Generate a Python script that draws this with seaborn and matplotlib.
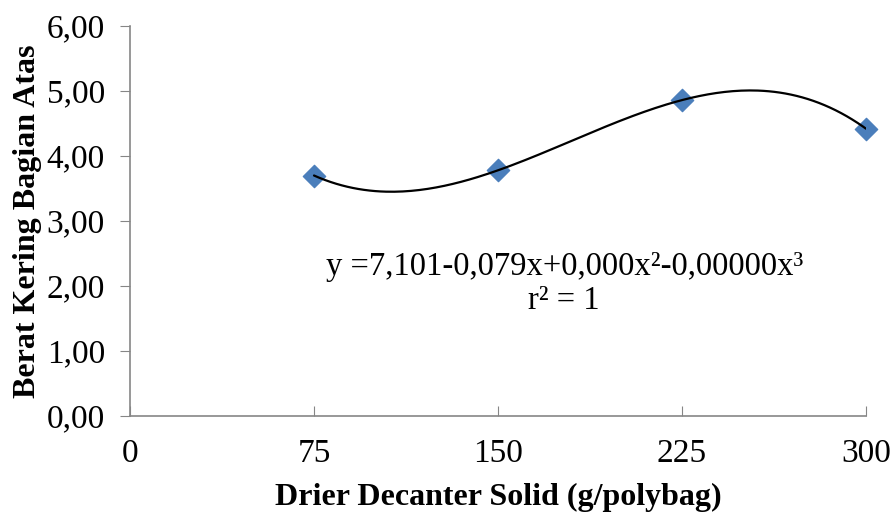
import numpy as np
import pandas as pd
import matplotlib
matplotlib.use("Agg")
import matplotlib.pyplot as plt
import seaborn as sns

# data
dosis = [75, 150, 225, 300]
berat = [3.70, 3.78, 4.86, 4.42]
x_ticks = [0, 75, 150, 225, 300]
y_ticks = [0, 1, 2, 3, 4, 5, 6]
y_labels = ["0,00", "1,00", "2,00", "3,00", "4,00", "5,00", "6,00"]

df = pd.DataFrame({"x": dosis, "y": berat})

sns.set_style("white")
plt.rcParams["font.family"] = ["Liberation Serif", "DejaVu Serif"]
plt.rcParams["text.color"] = "black"
plt.rcParams["axes.labelcolor"] = "black"
plt.rcParams["xtick.color"] = "black"
plt.rcParams["ytick.color"] = "black"

fig = plt.figure(figsize=(8.92, 5.15), dpi=100)
ax = fig.add_axes([130 / 892, 1 - 416 / 515, 736 / 892, 390 / 515])

# cubic trend line through the four points (r^2 = 1)
coef = np.polyfit(df["x"], df["y"], 3)
xs = np.linspace(min(dosis), max(dosis), 200)
curve = pd.DataFrame({"x": xs, "y": np.polyval(coef, xs)})

sns.scatterplot(data=df, x="x", y="y", ax=ax, marker="D", s=130,
                color="#4a7ebb", edgecolor="#4a7ebb", zorder=2, clip_on=False)
sns.lineplot(data=curve, x="x", y="y", ax=ax, color="black", lw=1.6, zorder=3)

fs = 24
ax.set_xlim(0, 300)
ax.set_ylim(0, 6)
ax.set_xticks(x_ticks)
ax.set_xticklabels([str(v) for v in x_ticks], fontsize=fs)
ax.set_yticks(y_ticks)
ax.set_yticklabels(y_labels, fontsize=fs)
ax.tick_params(axis="x", bottom=True, direction="in", length=7, color="#868686",
               labelcolor="black", pad=16)
ax.tick_params(axis="y", left=True, direction="out", length=7, color="#868686",
               labelcolor="black", pad=11)

sns.despine(ax=ax)
for s in ["left", "bottom"]:
    ax.spines[s].set_color("#868686")
    ax.spines[s].set_linewidth(1.2)

ax.set_xlabel("Drier Decanter Solid (g/polybag)", fontsize=23, fontweight="bold",
              labelpad=10, color="black")
ax.set_ylabel("Berat Kering Bagian Atas", fontsize=23, fontweight="bold",
              labelpad=3, color="black")

ax.text(177, 2.29, "y =7,101-0,079x+0,000x²-0,00000x³", fontsize=23.5,
        ha="center", va="center", color="black")
ax.text(177, 1.78, "r² = 1", fontsize=23.5, ha="center", va="center", color="black")

fig.savefig("out.png", dpi=100)
